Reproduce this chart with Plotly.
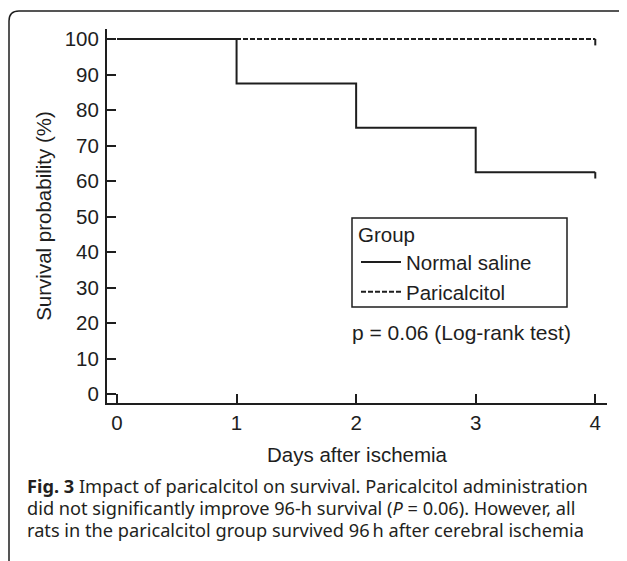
import plotly.graph_objects as go

# Data (Kaplan-Meier survival, %)
days = [0, 1, 2, 3, 4]
saline_surv = [100, 87.5, 75, 62.5, 62.5]
paricalcitol_surv = [100, 100, 100, 100, 100]
censor_day = [4]
saline_censor = [62.5]
paricalcitol_censor = [100]
x_ticks = [0, 1, 2, 3, 4]
y_ticks = [0, 10, 20, 30, 40, 50, 60, 70, 80, 90, 100]

caption_lines = [
    "<b>Fig. 3</b> Impact of paricalcitol on survival. Paricalcitol administration",
    "did not significantly improve 96-h survival (<i>P</i> = 0.06). However, all",
    "rats in the paricalcitol group survived 96\u2009h after cerebral ischemia",
]

# page is rendered with an 8px body margin
OFF = 8
W, H = 627 - OFF, 561 - OFF
# plot area in page pixels: x 107..607, y 29..403
L, T = 107 - OFF, 29 - OFF
R, B = W - (607 - OFF), H - (403 - OFF)
PW, PH = W - L - R, H - T - B

def px(xp):  # page pixel -> paper x
    return (xp - OFF - L) / PW

def py(yp):  # page pixel -> paper y
    return (H - B - (yp - OFF)) / PH

INK = "#1e1e1e"
CH_FONT = "Arial"
FS = 20.5

fig = go.Figure()
fig.add_trace(go.Scatter(
    x=days, y=saline_surv, mode="lines", line_shape="hv",
    line=dict(color=INK, width=2), name="Normal saline"))
fig.add_trace(go.Scatter(
    x=days, y=paricalcitol_surv, mode="lines", line_shape="hv",
    line=dict(color=INK, width=2, dash="5px,2px"), name="Paricalcitol"))
# censor ticks
for yy in (saline_censor, paricalcitol_censor):
    fig.add_trace(go.Scatter(
        x=censor_day, y=yy, mode="markers", marker=dict(size=0.1, color=INK),
        showlegend=False, hoverinfo="skip",
        error_y=dict(type="data", symmetric=False, array=[0], arrayminus=[1.8],
                     width=0, thickness=2, color=INK)))

axis_common = dict(
    showgrid=False, zeroline=False, showline=True, linecolor=INK, linewidth=2,
    ticks="inside", ticklen=9, tickwidth=2, tickcolor=INK, automargin=False,
    tickfont=dict(family=CH_FONT, size=FS, color=INK),
    title_font=dict(family=CH_FONT, size=FS, color=INK),
)
fig.update_xaxes(range=[-0.0836, 4.098], tickvals=x_ticks,
                 title_text="Days after ischemia", title_standoff=15,
                 ticklabelstandoff=0, **axis_common)
fig.update_yaxes(range=[-2.535, 102.82], tickvals=y_ticks,
                 title_text="Survival probability (%)", title_standoff=8,
                 ticklabelstandoff=2, **axis_common)

fig.add_annotation(xref="paper", yref="paper", x=px(350), y=py(332),
                   xanchor="left", yanchor="middle", showarrow=False,
                   text="p = 0.06 (Log-rank test)",
                   font=dict(family=CH_FONT, size=21, color=INK))

cap_y = [496, 518, 540]
for line, yb in zip(caption_lines, cap_y):
    fig.add_annotation(xref="paper", yref="paper", x=px(25), y=py(yb + 4),
                       xanchor="left", yanchor="bottom", showarrow=False,
                       text=line,
                       font=dict(family="Noto Sans, sans-serif", size=18.2, color="#231f20"))

# rounded frame (page pixels)
r = 10
x0, y0, x1, y1 = 9, 11, 627, 600
path = (f"M {px(x0)},{py(y1)} L {px(x0)},{py(y0 + r)} "
        f"Q {px(x0)},{py(y0)} {px(x0 + r)},{py(y0)} "
        f"L {px(x1 - r)},{py(y0)} Q {px(x1)},{py(y0)} {px(x1)},{py(y0 + r)} "
        f"L {px(x1)},{py(y1)}")
fig.add_shape(type="path", xref="paper", yref="paper", path=path,
              line=dict(color=INK, width=1.5), layer="below")

# legend frame
fig.add_shape(type="rect", xref="paper", yref="paper",
              x0=px(352), x1=px(567), y0=py(307), y1=py(218),
              line=dict(color=INK, width=1.5), fillcolor="rgba(0,0,0,0)")

fig.update_layout(
    width=W, height=H, margin=dict(l=L, r=R, t=T, b=B, autoexpand=False),
    plot_bgcolor="white", paper_bgcolor="white",
    legend=dict(x=px(356), y=py(215.5), xanchor="left", yanchor="top",
                bgcolor="rgba(0,0,0,0)", borderwidth=0,
                title=dict(text="Group", font=dict(family=CH_FONT, size=FS, color=INK)),
                font=dict(family=CH_FONT, size=FS, color=INK),
                itemwidth=40, tracegroupgap=0),
    showlegend=True,
)

fig.write_html("out.html")
